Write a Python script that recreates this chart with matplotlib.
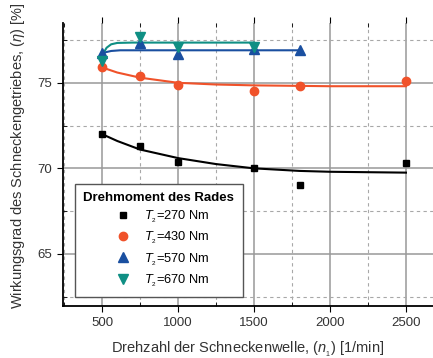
import numpy as np
import matplotlib.pyplot as plt
from matplotlib.ticker import MultipleLocator

# measured points (speed of worm shaft, efficiency)
n_270 = [500, 750, 1000, 1500, 1800, 2500]
eta_270 = [72.0, 71.3, 70.4, 70.0, 69.05, 70.3]
n_430 = [500, 750, 1000, 1500, 1800, 2500]
eta_430 = [75.95, 75.4, 74.9, 74.5, 74.8, 75.1]
n_570 = [500, 750, 1000, 1500, 1800]
eta_570 = [76.75, 77.3, 76.7, 76.95, 76.9]
n_670 = [500, 750, 1000, 1500]
eta_670 = [76.25, 77.7, 77.1, 77.1]

# fitted curves
fit_n_270 = [500, 600, 750, 1000, 1250, 1500, 1800, 2000, 2500]
fit_eta_270 = [72.0, 71.6, 71.1, 70.6, 70.25, 70.0, 69.85, 69.8, 69.75]
fit_n_430 = [500, 600, 750, 1000, 1250, 1500, 2000, 2500]
fit_eta_430 = [75.9, 75.6, 75.3, 75.0, 74.9, 74.85, 74.8, 74.8]
fit_n_570 = [500, 520, 560, 620, 700, 1800]
fit_eta_570 = [76.65, 76.78, 76.86, 76.9, 76.9, 76.9]
fit_n_670 = [500, 510, 530, 560, 600, 700, 1500]
fit_eta_670 = [76.35, 76.75, 77.05, 77.25, 77.33, 77.35, 77.35]

labels = ["270", "430", "570", "670"]
colors = ["#000000", "#f0522a", "#1a4fa0", "#0f8f84"]
markers = ["s", "o", "^", "v"]
sizes = [5.0, 6, 6.5, 6.5]

plt.rcParams['font.family'] = ['Liberation Sans', 'DejaVu Sans']
plt.rcParams['mathtext.fontset'] = 'custom'
plt.rcParams['mathtext.rm'] = 'Liberation Sans'
plt.rcParams['mathtext.it'] = 'Liberation Sans:italic'
fig = plt.figure(figsize=(4.33, 3.58), dpi=100)
ax = fig.add_axes([0.1455, 0.145, 0.8545, 0.791])

series = [
    (n_270, eta_270, fit_n_270, fit_eta_270),
    (n_430, eta_430, fit_n_430, fit_eta_430),
    (n_570, eta_570, fit_n_570, fit_eta_570),
    (n_670, eta_670, fit_n_670, fit_eta_670),
]
for (x, y, fx, fy), lab, c, m, s in zip(series, labels, colors, markers, sizes):
    ax.plot(fx, fy, color=c, lw=1.5, zorder=3)
    ax.plot(x, y, ls='none', marker=m, color=c, ms=s, zorder=4,
            label=r"$\mathit{T}_{_2}$=" + lab + " Nm")

ax.set_xlim(243, 2678)
ax.set_ylim(61.95, 78.5)
ax.xaxis.set_major_locator(MultipleLocator(500))
ax.xaxis.set_minor_locator(MultipleLocator(250))
ax.yaxis.set_major_locator(MultipleLocator(5))
ax.yaxis.set_minor_locator(MultipleLocator(2.5))
ax.grid(which='major', color='#999999', lw=1.1, ls='-', zorder=0)
ax.grid(which='minor', color='#a8a8a8', lw=0.8, ls=(0, (3, 3)), zorder=0)

ax.spines['top'].set_visible(False)
ax.spines['right'].set_visible(False)
ax.spines['left'].set_linewidth(1.3)
ax.spines['bottom'].set_linewidth(1.3)
ax.tick_params(which='major', direction='out', length=4, labelsize=9.5,
               colors='black', labelcolor='#333333', top=True, pad=4)
ax.tick_params(which='minor', direction='in', length=3, top=True)

ax.set_xlabel(r"Drehzahl der Schneckenwelle, ($\mathit{n}_{_1}$) [1/min]",
              fontsize=10.5, color='#333333', labelpad=8)
ax.set_ylabel(r"Wirkungsgrad des Schneckengetriebes, ($\mathit{\eta}$) [%]",
              fontsize=10.5, color='#333333')
ax.yaxis.set_label_coords(-0.097, 0.53)

leg = ax.legend(loc='lower left', bbox_to_anchor=(0.032, 0.032), fontsize=9.3,
                title="Drehmoment des Rades", frameon=True, fancybox=False,
                edgecolor='#555555', framealpha=1, handletextpad=0.36,
                borderpad=0.65, labelspacing=0.35, handlelength=2.4,
                borderaxespad=0)
leg.get_title().set_fontweight('bold')
leg.get_title().set_fontsize(9.5)
leg.get_frame().set_linewidth(1.0)

fig.savefig("out.png", dpi=100)
